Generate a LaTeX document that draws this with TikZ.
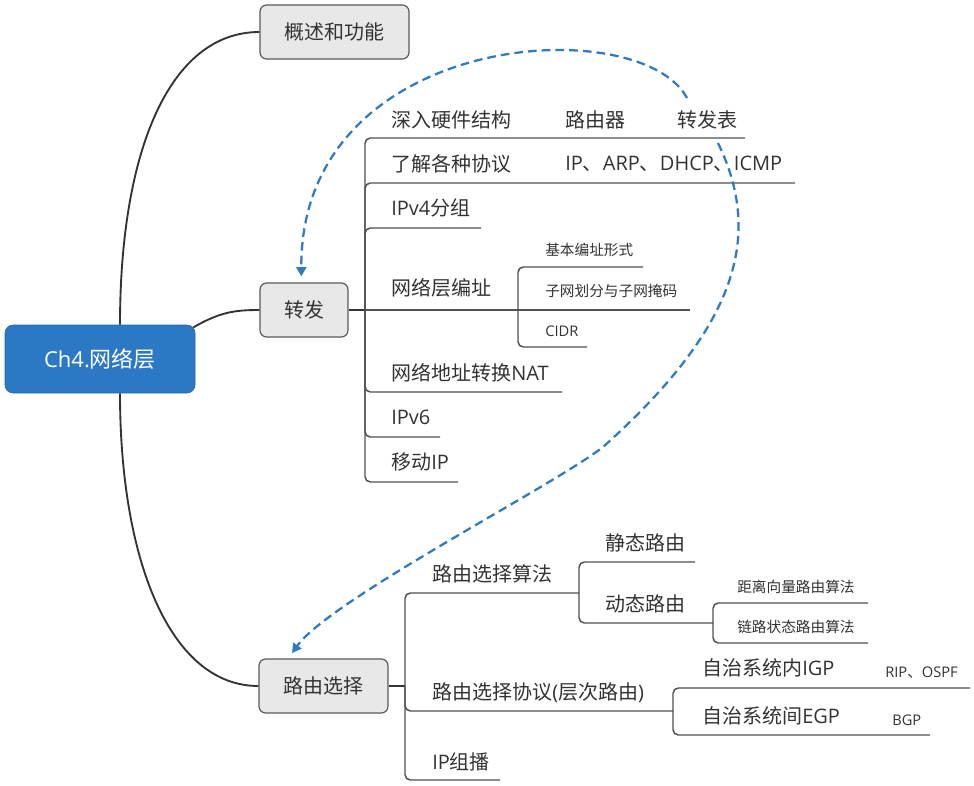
\documentclass[tikz,border=0pt]{standalone}
\usepackage{fontspec}
\setmainfont{Noto Sans CJK SC}
\newfontfamily\lat{Open Sans}
\usetikzlibrary{arrows.meta}
\definecolor{rootblue}{HTML}{2B78C4}
\definecolor{boxgray}{HTML}{E8E8E8}
\definecolor{boxline}{HTML}{5A5A5A}
\definecolor{linkblue}{HTML}{2E7BC4}
\definecolor{txt}{HTML}{333333}
\definecolor{branchc}{HTML}{505050}
\begin{document}
\begin{tikzpicture}[x=0.75pt,y=-0.75pt,
 rootbox/.style={draw=rootblue!85!black, fill=rootblue, rounded corners=6pt, minimum width=142.5pt, minimum height=51pt, text=white, font=\fontsize{16.5pt}{20pt}\selectfont, inner sep=0},
 mainbox/.style={draw=boxline, fill=boxgray, line width=0.9pt, rounded corners=5pt, minimum height=40.5pt, text=txt, font=\fontsize{15pt}{18pt}\selectfont, inner sep=0},
 item/.style={anchor=west, inner sep=0, text=txt, font=\fontsize{15pt}{18pt}\selectfont},
 small/.style={anchor=west, inner sep=0, text=txt, font=\fontsize{11pt}{13pt}\selectfont},
 trunk/.style={draw=black!80, line width=1.4pt},
 branch/.style={draw=branchc, line width=1.1pt, rounded corners=4pt},
 link/.style={draw=linkblue, line width=1.7pt, dash pattern=on 6.5pt off 3.8pt, -{Triangle[length=7pt,width=7.5pt]}}
]
\fill[white] (0,0) rectangle (974,785);
\useasboundingbox (0,0) rectangle (974,785);

% main nodes
\node[rootbox] (root) at (100,359) {{\lat Ch4.}网络层};
\node[mainbox, minimum width=111.75pt] (gs) at (334.5,32) {概述和功能};
\node[mainbox, minimum width=66pt] (fw) at (304,310) {转发};
\node[mainbox, minimum width=96.75pt] (rs) at (323.5,686) {路由选择};

% trunk curves
\draw[trunk] ([xshift=15pt]root.north) .. controls (120,150) and (170,32) .. (gs.west);
\draw[trunk] ([xshift=-1.5pt,yshift=-2pt]root.north east) .. controls (220,312) and (235,310) .. (fw.west);
\draw[trunk] ([xshift=15pt]root.south) .. controls (120,560) and (170,686) .. (rs.west);

% ---------- forwarding ----------
\coordinate (fj) at (365,310);
\draw[trunk] (fw.east) -- (fj);

\node[item] (n11) at (391,120) {深入硬件结构};
\node[item] (n11a) at (565,120) {路由器};
\node[item] (n11b) at (677,120) {转发表};
\node[item] (n12) at (391,164) {了解各种协议};
\node[item] (n12a) at (565,164) {{\lat IP}、{\lat ARP}、{\lat DHCP}、{\lat ICMP}};
\node[item] (n13) at (391,208) {{\lat IPv4}分组};
\node[item] (n14) at (391,288) {网络层编址};
\node[small] (n141) at (545,250) {基本编址形式};
\node[small] (n142) at (545,291) {子网划分与子网掩码};
\node[small] (n143) at (545,331) {{\lat CIDR}};
\node[item] (n15) at (391,373) {网络地址转换{\lat NAT}};
\node[item] (n16) at (391,417) {{\lat IPv6}};
\node[item] (n17) at (391,462) {移动{\lat IP}};

\coordinate (e11) at (745,138);
\coordinate (e12) at (795,183);
\coordinate (e13) at (481,228);
\coordinate (sj) at (518,310);
\coordinate (e141) at (643,267);
\coordinate (e142) at (690,310);
\coordinate (e143) at (587,347);
\coordinate (e15) at (562,392);
\coordinate (e16) at (440,437);
\coordinate (e17) at (458,482);

\draw[branch] (fj) |- (e11);
\draw[branch] (fj) |- (e12);
\draw[branch] (fj) |- (e13);
\draw[branch] (fj) -- (sj);
\draw[branch] (sj) |- (e141);
\draw[branch] (sj) -- (e142);
\draw[branch] (sj) |- (e143);
\draw[branch] (fj) |- (e15);
\draw[branch] (fj) |- (e16);
\draw[branch] (fj) |- (e17);

% ---------- routing ----------
\coordinate (rj) at (405,686);
\draw[trunk] (rs.east) -- (rj);

\node[item] (r1) at (432,574) {路由选择算法};
\node[item] (r11) at (605,543) {静态路由};
\node[item] (r12) at (605,604) {动态路由};
\node[small] (r121) at (737,587) {距离向量路由算法};
\node[small] (r122) at (737,627) {链路状态路由算法};
\node[item] (r2) at (432,693) {路由选择协议{\lat (}层次路由{\lat )}};
\node[item] (r21) at (702,668) {自治系统内{\lat IGP}};
\node[small] (r21a) at (885,673) {{\lat RIP}、{\lat OSPF}};
\node[item] (r22) at (702,716) {自治系统间{\lat EGP}};
\node[small] (r22a) at (892,720) {{\lat BGP}};
\node[item] (r3) at (432,762) {{\lat IP}组播};

\coordinate (aj) at (579,593);
\coordinate (e11r) at (695,562);
\coordinate (dj) at (713,623);
\coordinate (e121) at (868,603);
\coordinate (e122) at (868,643);
\coordinate (pj) at (673,711);
\coordinate (e21) at (970,688);
\coordinate (e22) at (930,735);
\coordinate (e3) at (500,780);

\draw[branch] (rj) |- (aj);
\draw[branch] (aj) |- (e11r);
\draw[branch] (aj) |- (dj);
\draw[branch] (dj) |- (e121);
\draw[branch] (dj) |- (e122);
\draw[branch] (rj) |- (pj);
\draw[branch] (pj) |- (e21);
\draw[branch] (pj) |- (e22);
\draw[branch] (rj) |- (e3);

% ---------- dashed links from 转发表 ----------
\coordinate (a1s) at (687,98);
\coordinate (a2s) at (718,143);
\draw[link] (a1s) .. controls (640,10) and (300,30) .. ([xshift=-2pt,yshift=4.5pt]fw.north);
\draw[link] (a2s) .. controls (760,230) and (745,320) .. (603,447)
  .. controls (553,486) and (330,600) .. ([xshift=-23.6pt,yshift=4pt]rs.north);
\end{tikzpicture}
\end{document}
